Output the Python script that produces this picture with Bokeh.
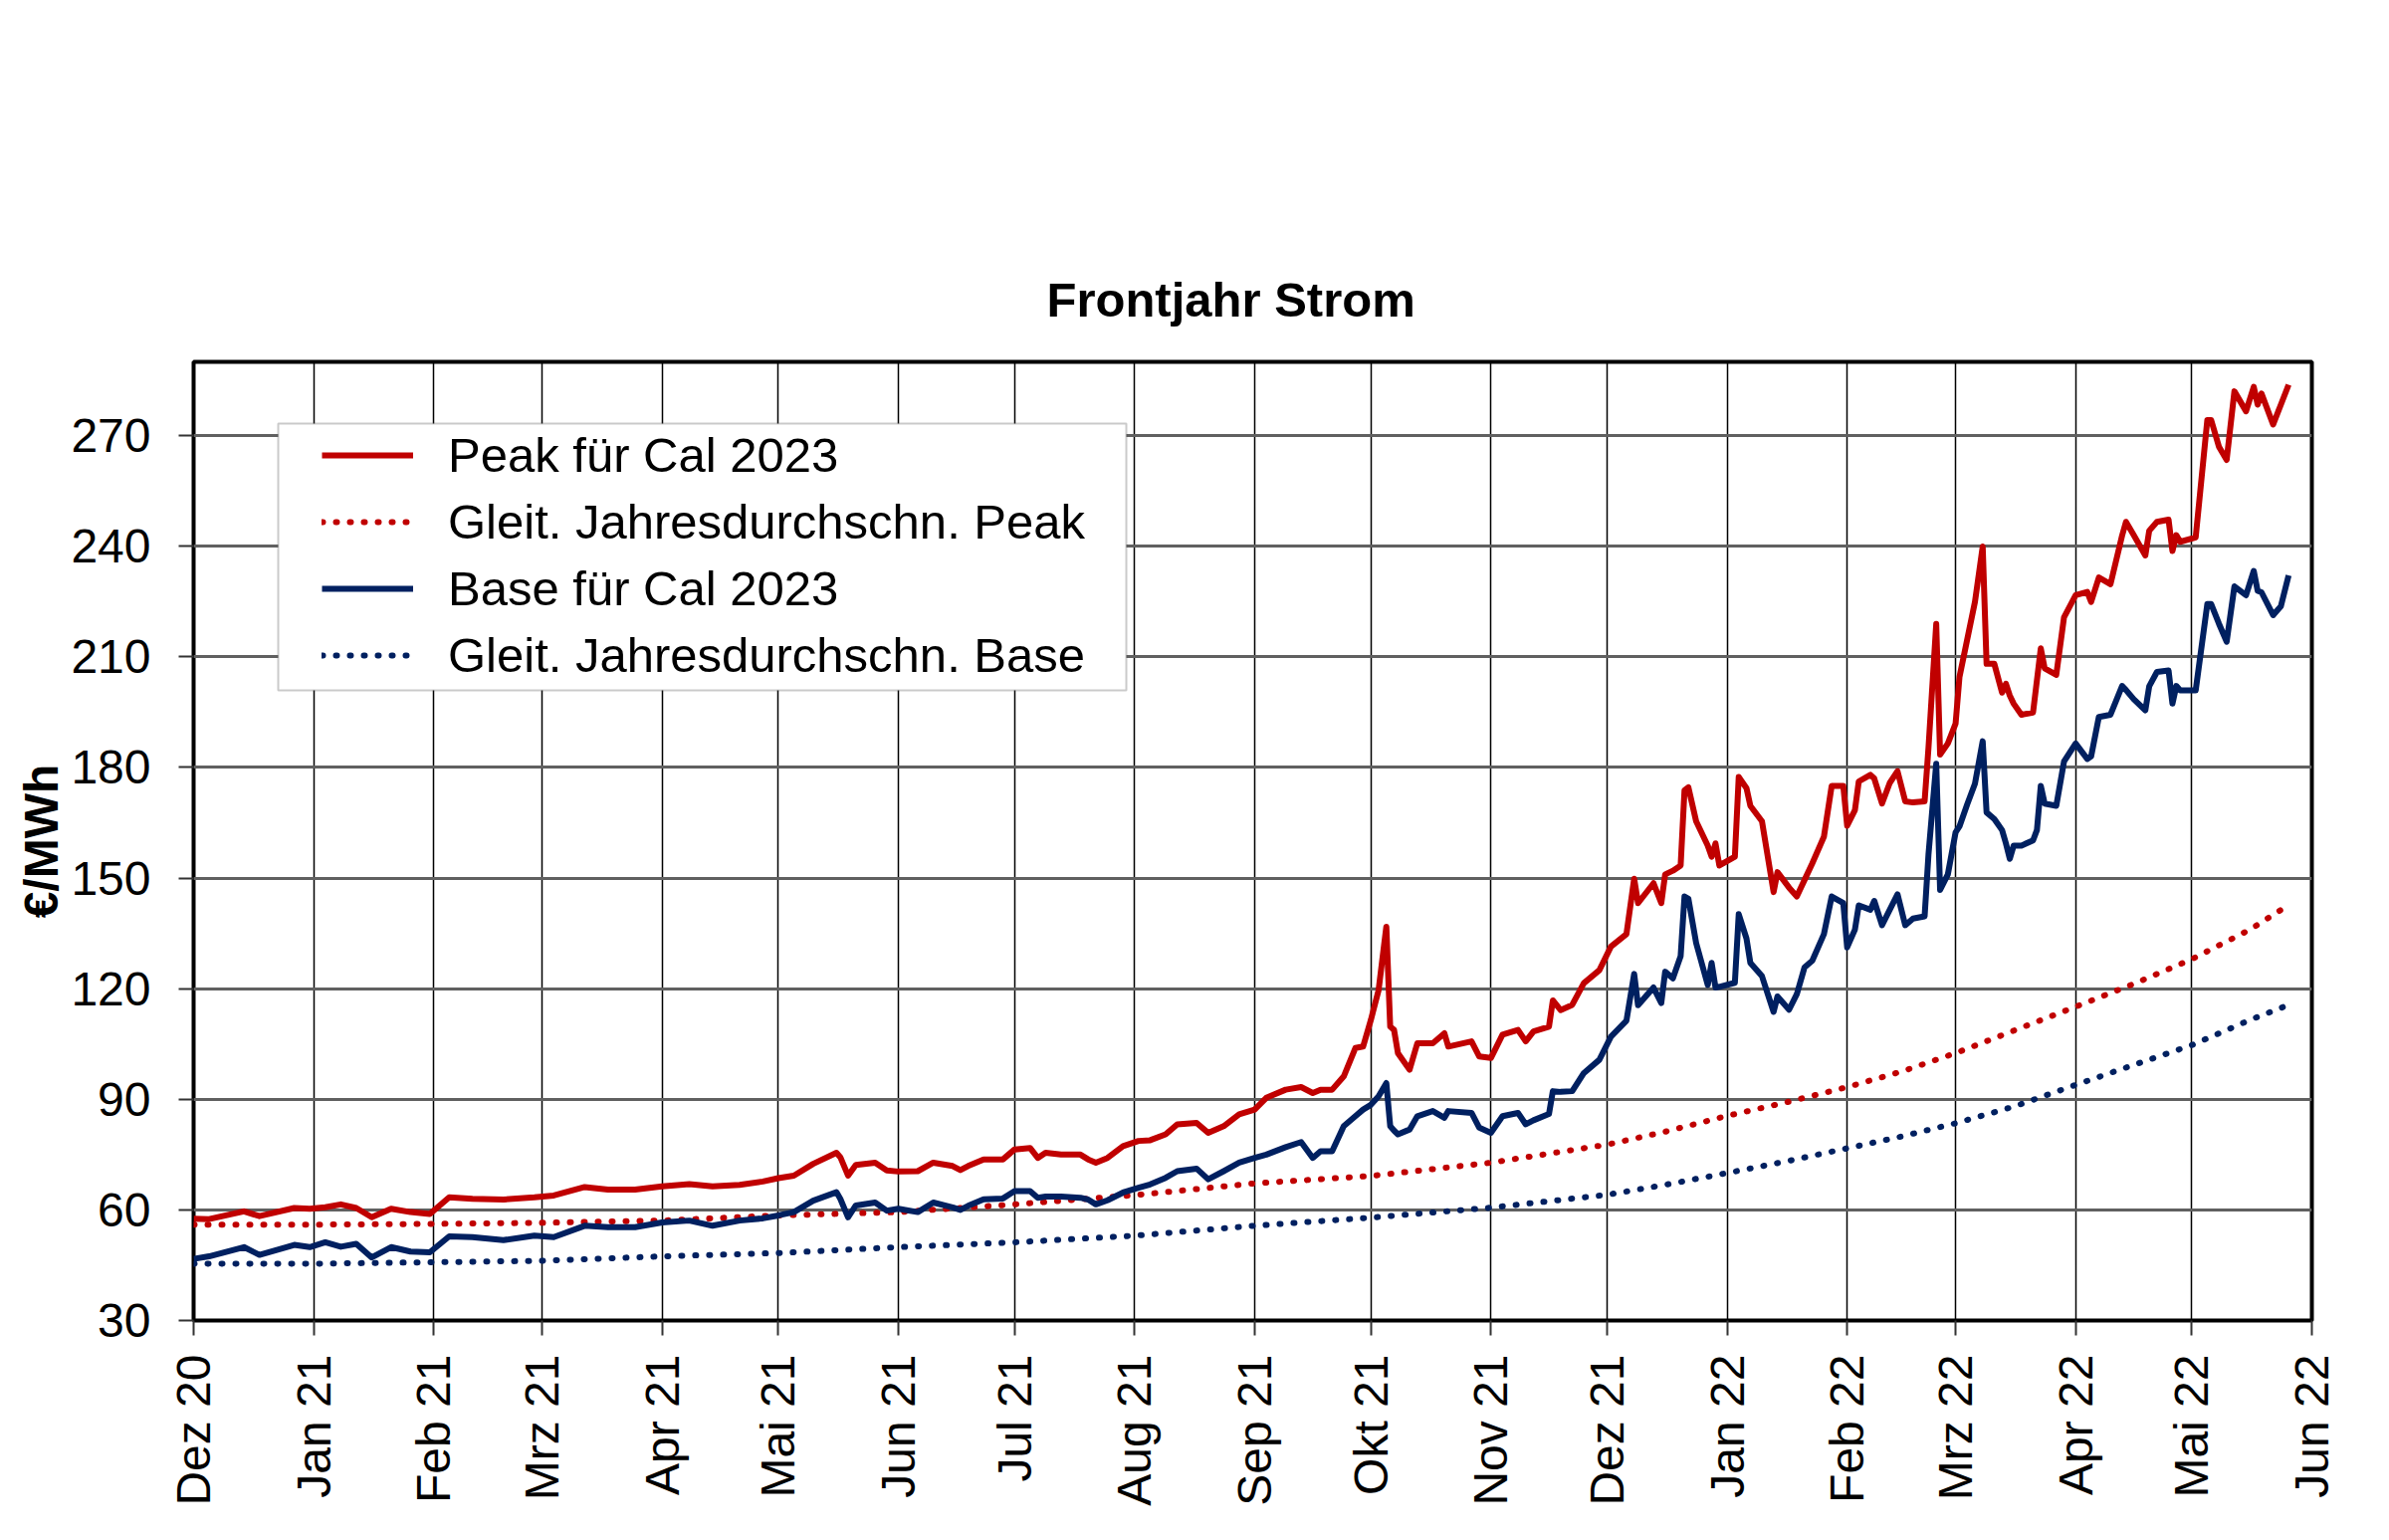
from math import pi

import pandas as pd
from bokeh.plotting import figure
from bokeh.models import (Range1d, FixedTicker, Legend, LegendItem,
                          BoxAnnotation, ColumnDataSource)
from bokeh.embed import file_html
from bokeh.resources import INLINE

FONT = "Liberation Sans"
RED = "#C00000"
BLUE = "#002060"

# daily front-year prices (EUR/MWh)
dates = [
    "2020-12-01", "2020-12-05", "2020-12-14", "2020-12-18", "2020-12-27", "2020-12-31",
    "2021-01-04", "2021-01-08", "2021-01-12", "2021-01-16", "2021-01-21", "2021-01-26", "2021-01-31",
    "2021-02-05", "2021-02-11", "2021-02-19", "2021-02-27",
    "2021-03-04", "2021-03-12", "2021-03-18", "2021-03-25",
    "2021-04-01", "2021-04-08", "2021-04-14", "2021-04-21", "2021-04-27",
    "2021-05-01", "2021-05-05", "2021-05-10", "2021-05-16", "2021-05-17", "2021-05-19", "2021-05-21",
    "2021-05-26", "2021-05-29",
    "2021-06-01", "2021-06-06", "2021-06-10", "2021-06-15", "2021-06-17", "2021-06-19", "2021-06-23",
    "2021-06-28",
    "2021-07-01", "2021-07-05", "2021-07-07", "2021-07-09", "2021-07-13", "2021-07-18", "2021-07-20",
    "2021-07-22", "2021-07-25", "2021-07-29",
    "2021-08-02", "2021-08-05", "2021-08-09", "2021-08-12", "2021-08-17", "2021-08-20", "2021-08-24",
    "2021-08-28",
    "2021-09-01", "2021-09-04", "2021-09-09", "2021-09-13", "2021-09-16", "2021-09-18", "2021-09-21",
    "2021-09-24", "2021-09-27", "2021-09-29",
    "2021-10-01", "2021-10-03", "2021-10-05", "2021-10-06", "2021-10-07", "2021-10-08", "2021-10-11",
    "2021-10-13", "2021-10-17", "2021-10-20", "2021-10-21", "2021-10-27", "2021-10-29",
    "2021-11-01", "2021-11-04", "2021-11-08", "2021-11-10", "2021-11-12", "2021-11-16", "2021-11-17",
    "2021-11-19", "2021-11-22", "2021-11-25", "2021-11-29",
    "2021-12-02", "2021-12-06", "2021-12-08", "2021-12-09", "2021-12-13", "2021-12-15", "2021-12-16",
    "2021-12-18", "2021-12-20", "2021-12-21", "2021-12-22", "2021-12-24", "2021-12-27", "2021-12-28",
    "2021-12-29", "2021-12-30",
    "2022-01-03", "2022-01-04", "2022-01-06", "2022-01-07", "2022-01-10", "2022-01-13", "2022-01-14",
    "2022-01-17", "2022-01-19", "2022-01-21", "2022-01-23", "2022-01-26", "2022-01-28", "2022-01-31",
    "2022-02-01", "2022-02-03", "2022-02-04", "2022-02-07", "2022-02-08", "2022-02-10", "2022-02-12",
    "2022-02-14", "2022-02-16", "2022-02-18", "2022-02-21", "2022-02-22", "2022-02-24", "2022-02-25",
    "2022-02-27",
    "2022-03-01", "2022-03-02", "2022-03-04", "2022-03-06", "2022-03-08", "2022-03-09", "2022-03-11",
    "2022-03-13", "2022-03-14", "2022-03-15", "2022-03-16", "2022-03-18", "2022-03-21", "2022-03-22",
    "2022-03-23", "2022-03-24", "2022-03-27", "2022-03-29",
    "2022-04-01", "2022-04-04", "2022-04-05", "2022-04-07", "2022-04-10", "2022-04-13", "2022-04-14",
    "2022-04-16", "2022-04-19", "2022-04-20", "2022-04-22", "2022-04-25", "2022-04-26", "2022-04-27",
    "2022-04-28",
    "2022-05-02", "2022-05-05", "2022-05-06", "2022-05-08", "2022-05-10", "2022-05-12", "2022-05-15",
    "2022-05-17", "2022-05-18", "2022-05-19", "2022-05-22", "2022-05-24", "2022-05-26",
]

peak = [
    57.6, 57.5, 59.6, 58.3, 60.5, 60.3,
    60.7, 61.5, 60.5, 58.0, 60.3, 59.4, 58.9,
    63.4, 63.0, 62.8, 63.4,
    63.9, 66.2, 65.5, 65.5,
    66.4, 67.0, 66.4, 66.8, 67.7,
    68.6, 69.3, 72.5, 75.5, 74.3, 69.3, 72.2, 72.8, 70.7,
    70.4, 70.5, 72.8, 71.9, 70.8, 71.9, 73.7, 73.7,
    76.4, 76.8, 74.1, 75.5, 75.0, 75.0, 73.7, 72.8, 74.1, 77.3,
    78.7, 78.9, 80.5, 83.2, 83.6, 80.9, 82.7, 85.9,
    87.2, 90.4, 92.6, 93.3, 91.7, 92.6, 92.6, 96.2, 103.9, 104.3,
    111.5, 119.6, 136.8, 109.7, 108.8, 102.5, 98.0, 105.2, 105.2, 107.9, 104.3, 105.7, 101.6,
    101.2, 107.5, 108.8, 105.7, 108.4, 109.7, 116.8, 114.2, 115.6, 121.5, 125.0,
    131.4, 134.8, 149.8, 143.2, 148.6, 143.2, 151.0, 152.0, 153.4, 173.8, 174.6, 165.4, 158.8,
    155.8, 159.4, 153.4,
    155.8, 177.4, 174.4, 169.6, 165.4, 146.2, 151.6, 147.4, 145.0, 149.5, 154.0, 161.2, 175.0, 175.0,
    164.2, 168.4, 176.2, 178.0, 177.0, 170.2, 175.8, 179.0, 170.8, 170.5, 170.8, 185.3, 218.9,
    183.5, 186.5,
    191.9, 204.5, 214.7, 224.9, 239.9, 208.1, 208.1, 200.3, 202.7, 199.5, 197.3, 194.3, 194.9,
    203.6, 212.3, 206.9, 205.1, 220.7,
    226.7, 227.6, 224.9, 231.5, 229.7, 242.9, 246.6, 243.0, 237.5, 244.2, 246.6, 247.2, 238.7,
    243.0, 241.2,
    242.4, 274.2, 274.2, 267.0, 263.4, 282.0, 276.6, 283.2, 278.4, 281.4, 273.0, 278.4, 283.8,
]

base = [
    46.7, 47.4, 49.9, 47.8, 50.5, 49.9,
    51.2, 50.0, 50.8, 47.1, 49.9, 48.7, 48.5,
    52.8, 52.6, 51.8, 53.0,
    52.6, 55.7, 55.3, 55.3,
    56.6, 57.1, 55.7, 57.1, 57.7,
    58.5, 59.4, 62.5, 64.8, 63.0, 58.0, 61.2, 62.0, 59.8,
    60.3, 59.4, 62.0, 60.7, 60.0, 61.1, 62.9, 63.1,
    65.1, 65.1, 63.3, 63.6, 63.6, 63.3, 62.8, 61.5, 62.6, 64.7,
    66.0, 66.9, 68.7, 70.5, 71.2, 68.3, 70.5, 72.8,
    74.1, 75.0, 77.0, 78.4, 74.1, 75.9, 75.9, 82.7, 85.4, 87.2,
    88.5, 90.8, 94.4, 82.7, 81.5, 80.5, 81.8, 85.4, 86.8, 85.0, 86.8, 86.3, 82.3,
    80.9, 85.4, 86.3, 83.2, 84.3, 86.0, 92.2, 92.0, 92.2, 97.1, 100.7,
    107.0, 111.3, 124.0, 115.5, 120.3, 116.1, 124.6, 122.8, 128.8, 145.0, 144.4, 132.4, 121.0,
    127.0, 120.3, 120.5,
    121.6, 140.2, 133.6, 127.0, 123.4, 113.7, 117.9, 114.3, 118.5, 125.8, 127.6, 134.8, 145.0, 143.2,
    131.2, 136.0, 142.6, 141.4, 143.8, 137.2, 141.4, 145.6, 137.2, 139.0, 139.6, 156.4, 181.0,
    146.8, 151.0,
    162.4, 164.0, 170.0, 175.6, 187.1, 167.8, 166.0, 163.0, 159.4, 155.2, 158.8, 158.8, 160.2,
    163.0, 175.0, 170.2, 169.6, 181.6,
    186.5, 182.3, 183.0, 193.7, 194.3, 202.1, 201.0, 198.5, 195.5, 202.0, 205.9, 206.3, 197.3,
    202.1, 200.9,
    200.9, 224.3, 224.3, 219.0, 214.1, 229.1, 226.7, 233.3, 227.9, 227.5, 221.3, 223.7, 232.1,
]

# rolling yearly averages
avg_dates = [
    "2020-12-01", "2021-01-01", "2021-02-01", "2021-03-01", "2021-04-01", "2021-05-01",
    "2021-06-01", "2021-07-01", "2021-08-01", "2021-09-01", "2021-10-01", "2021-11-01",
    "2021-12-01", "2021-12-16", "2022-01-01", "2022-01-16", "2022-02-01", "2022-02-15",
    "2022-03-01", "2022-03-16", "2022-04-01", "2022-04-16", "2022-05-01", "2022-05-16",
    "2022-05-26",
]
avg_peak = [56.0, 56.0, 56.2, 56.5, 57.1, 58.5, 59.4, 61.5, 64.0, 67.2, 69.2, 72.8,
            77.7, 81.2, 85.5, 89.1, 93.3, 97.5, 102.5, 108.6, 115.1, 121.3, 128.0, 136.0,
            142.7]
avg_base = [45.4, 45.4, 45.8, 46.2, 47.4, 48.3, 49.9, 51.2, 53.0, 55.7, 57.9, 60.6,
            64.1, 66.8, 70.0, 73.1, 76.7, 79.9, 83.5, 88.0, 93.9, 99.3, 104.7, 111.5,
            115.6]

tick_dates = ["2020-12-01", "2021-01-01", "2021-02-01", "2021-03-01", "2021-04-01",
              "2021-05-01", "2021-06-01", "2021-07-01", "2021-08-01", "2021-09-01",
              "2021-10-01", "2021-11-01", "2021-12-01", "2022-01-01", "2022-02-01",
              "2022-03-01", "2022-04-01", "2022-05-01", "2022-06-01"]
tick_labels = ["Dez 20", "Jan 21", "Feb 21", "Mrz 21", "Apr 21", "Mai 21", "Jun 21",
               "Jul 21", "Aug 21", "Sep 21", "Okt 21", "Nov 21", "Dez 21", "Jan 22",
               "Feb 22", "Mrz 22", "Apr 22", "Mai 22", "Jun 22"]
y_ticks = [30, 60, 90, 120, 150, 180, 210, 240, 270]

tick_ms = [int(pd.Timestamp(d).value // 10**6) for d in tick_dates]

src = ColumnDataSource(dict(date=pd.to_datetime(dates), peak=peak, base=base))
avg_src = ColumnDataSource(dict(date=pd.to_datetime(avg_dates), peak=avg_peak, base=avg_base))

p = figure(width=2384, height=1531, x_axis_type="datetime",
           x_range=Range1d(pd.Timestamp(tick_dates[0]), pd.Timestamp(tick_dates[-1])),
           y_range=Range1d(30, 290),
           output_backend="svg", toolbar_location=None, title="Frontjahr Strom",
           min_border_left=194, min_border_right=62,
           min_border_top=363, min_border_bottom=205)

p.title.text_font = FONT
p.title.text_font_size = "49px"
p.title.text_font_style = "bold"
p.title.text_color = "black"
p.title.align = "left"
p.title.offset = 857
p.title.standoff = 71

p.outline_line_color = "black"
p.outline_line_width = 4

p.xaxis.ticker = FixedTicker(ticks=tick_ms)
p.xaxis.major_label_overrides = dict(zip(tick_ms, tick_labels))
p.xaxis.major_label_orientation = pi / 2
p.xaxis.major_label_standoff = 19
p.yaxis.ticker = FixedTicker(ticks=y_ticks)
p.yaxis.major_label_standoff = 28
p.yaxis.axis_label = "€/MWh"
p.yaxis.axis_label_text_font = FONT
p.yaxis.axis_label_text_font_size = "48px"
p.yaxis.axis_label_text_font_style = "bold"
p.yaxis.axis_label_text_color = "black"
p.yaxis.axis_label_standoff = 0

for ax in (p.xaxis, p.yaxis):
    ax.major_label_text_font = FONT
    ax.major_label_text_font_size = "48px"
    ax.major_label_text_color = "black"
    ax.axis_line_color = None
    ax.major_tick_in = 0
    ax.major_tick_out = 15
    ax.major_tick_line_width = 2
    ax.major_tick_line_color = "#333333"
    ax.minor_tick_line_color = None

p.xgrid.grid_line_color = "black"
p.xgrid.grid_line_width = 1.5
p.ygrid.grid_line_color = "#606060"
p.ygrid.grid_line_width = 3

r_avg_p = p.line("date", "peak", source=avg_src, color=RED, line_width=6,
                 line_dash="1 13", line_cap="round")
r_avg_b = p.line("date", "base", source=avg_src, color=BLUE, line_width=6,
                 line_dash="1 13", line_cap="round")
r_base = p.line("date", "base", source=src, color=BLUE, line_width=6, line_join="round")
r_peak = p.line("date", "peak", source=src, color=RED, line_width=6, line_join="round")

box = BoxAnnotation(left=85, right=937, bottom=633, top=901,
                    left_units="screen", right_units="screen",
                    top_units="screen", bottom_units="screen",
                    fill_color="white", fill_alpha=1.0,
                    line_color="#505050", line_width=2)
p.add_layout(box)

legend = Legend(items=[
    LegendItem(label="Peak für Cal 2023", renderers=[r_peak]),
    LegendItem(label="Gleit. Jahresdurchschn. Peak", renderers=[r_avg_p]),
    LegendItem(label="Base für Cal 2023", renderers=[r_base]),
    LegendItem(label="Gleit. Jahresdurchschn. Base", renderers=[r_avg_b]),
], location=(129, 639), padding=0, margin=0, spacing=9,
    label_height=58, glyph_height=58, glyph_width=92, label_standoff=35,
    label_text_font=FONT, label_text_font_size="49px", label_text_color="black",
    border_line_alpha=0, background_fill_alpha=0)
p.add_layout(legend)

open("out.html", "w").write(file_html(p, INLINE))
